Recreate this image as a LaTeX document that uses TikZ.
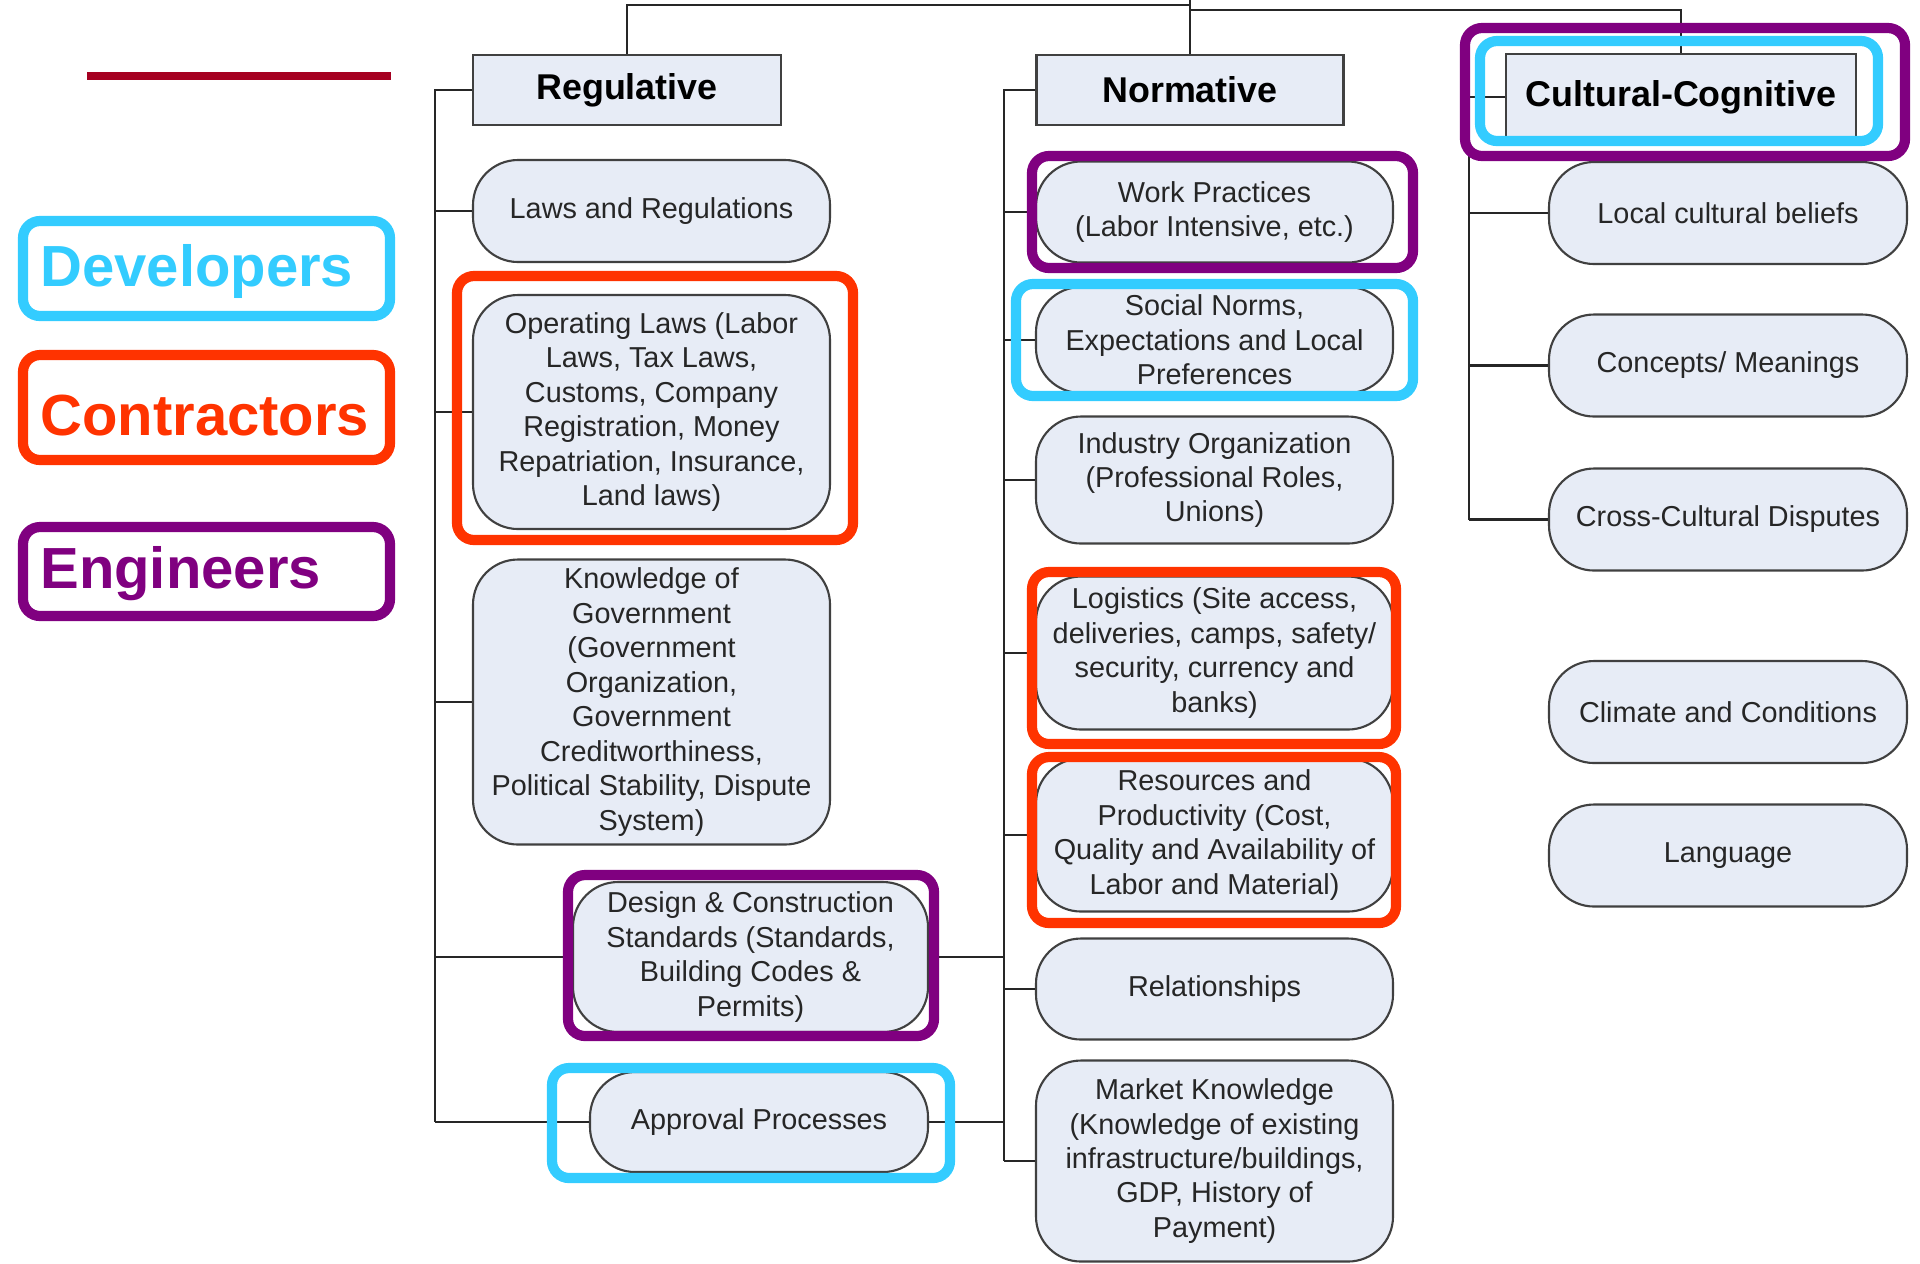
\documentclass[tikz,border=0pt]{standalone}
\usepackage{fontspec}
\setmainfont{Liberation Sans}
\usetikzlibrary{positioning}
\definecolor{boxfill}{HTML}{E7ECF6}
\definecolor{boxline}{HTML}{404040}
\definecolor{devcyan}{HTML}{33CCFF}
\definecolor{conred}{HTML}{FF3300}
\definecolor{engpurple}{HTML}{800080}
\definecolor{rulered}{HTML}{A50021}
\tikzset{
  % pillar headers
  pillar/.style={rectangle, draw=boxline, fill=boxfill, line width=0.6pt,
                 minimum height=0.7cm, font=\fontsize{10.2}{12}\selectfont\bfseries},
  % rounded pillar items
  item/.style={rectangle, draw=boxline, fill=boxfill, line width=0.6pt,
               rounded corners=0.45cm, minimum width=3.57cm, minimum height=1.02cm,
               inner sep=2pt, align=center, text=black!85,
               font=\fontsize{8.2}{9.8}\selectfont},
  % tree lines
  link/.style={draw=black!85, line width=0.6pt},
  % stakeholder outlines -- usage: \draw[hilite=conred] ...
  hilite/.style={draw=#1, line width=2.9pt, rounded corners=0.17cm},
  keytext/.style={anchor=west, font=\fontsize{16.5}{19}\selectfont\bfseries, text=#1},
}

\begin{document}
\begin{tikzpicture}
\useasboundingbox (0,0) rectangle (19.2,-12.63);

% ── Legend ───────────────────────────────────────────────────────────────────
\draw[rulered, line width=2.2pt] (0.87,-0.76) -- (3.91,-0.76);
\draw[hilite=devcyan]   (0.23,-2.21) rectangle (3.90,-3.16);
\draw[hilite=conred]    (0.23,-3.55) rectangle (3.90,-4.60);
\draw[hilite=engpurple] (0.23,-5.27) rectangle (3.90,-6.16);
\node[keytext=devcyan]   (devkey) at (0.28,-2.71) {Developers};
\node[keytext=conred]    (conkey) at (0.28,-4.16) {Contractors};
\node[keytext=engpurple] (engkey) at (0.28,-5.74) {Engineers};

% ── Pillars ──────────────────────────────────────────────────────────────────
\node[pillar, minimum width=3.08cm] (regulative) at (6.27,-0.90)  {Regulative};
\node[pillar, minimum width=3.07cm] (normative)  at (11.90,-0.90) {Normative};
\node[pillar, minimum width=3.50cm, minimum height=0.86cm]
                                    (cultural)   at (16.81,-0.97) {Cultural-Cognitive};

% ── Regulative items ─────────────────────────────────────────────────────────
\node[item] (laws)   at (6.515,-2.11) {Laws and Regulations};
\node[item, minimum height=2.34cm] (oplaws) at (6.515,-4.12)
  {Operating Laws (Labor\\Laws, Tax Laws,\\Customs, Company\\Registration, Money\\Repatriation, Insurance,\\Land laws)};
\node[item, minimum height=2.85cm] (govt) at (6.515,-7.02)
  {Knowledge of\\Government\\(Government\\Organization,\\Government\\Creditworthiness,\\Political Stability, Dispute\\System)};
\node[item, minimum width=3.55cm, minimum height=1.50cm] (design) at (7.505,-9.57)
  {Design \& Construction\\Standards (Standards,\\Building Codes \&\\Permits)};
\node[item, minimum width=3.38cm, minimum height=1.00cm] (approval) at (7.59,-11.22)
  {Approval Processes};

% ── Normative items ──────────────────────────────────────────────────────────
\node[item, minimum height=1.01cm] (work)   at (12.145,-2.12)
  {Work Practices\\(Labor Intensive, etc.)};
\node[item, minimum height=1.06cm] (social) at (12.145,-3.40)
  {Social Norms,\\Expectations and Local\\Preferences};
\node[item, minimum height=1.27cm] (industry) at (12.145,-4.80)
  {Industry Organization\\(Professional Roles,\\Unions)};
\node[item, minimum height=1.53cm] (logistics) at (12.145,-6.53)
  {Logistics (Site access,\\deliveries, camps, safety/\\security, currency and\\banks)};
\node[item, minimum height=1.53cm] (resources) at (12.145,-8.35)
  {Resources and\\Productivity (Cost,\\Quality and Availability of\\Labor and Material)};
\node[item, minimum height=1.01cm] (relations) at (12.145,-9.89) {Relationships};
\node[item, minimum height=2.01cm] (market) at (12.145,-11.61)
  {Market Knowledge\\(Knowledge of existing\\infrastructure/buildings,\\GDP, History of\\Payment)};

% ── Cultural-Cognitive items ─────────────────────────────────────────────────
\node[item, minimum width=3.58cm] (local)    at (17.28,-2.13)  {Local cultural beliefs};
\node[item, minimum width=3.58cm] (concepts) at (17.28,-3.655) {Concepts/ Meanings};
\node[item, minimum width=3.58cm] (disputes) at (17.28,-5.195) {Cross-Cultural Disputes};
\node[item, minimum width=3.58cm] (climate)  at (17.28,-7.12)  {Climate and Conditions};
\node[item, minimum width=3.58cm] (language) at (17.28,-8.555) {Language};

% ── Tree lines ───────────────────────────────────────────────────────────────
\coordinate (root)  at (11.90,0);
\coordinate (rjoin) at (11.90,-0.05);
\coordinate (cjoin) at (11.90,-0.10);
\draw[link] (root) -- (normative.north);
\draw[link] (regulative.north) |- (rjoin);
\draw[link] (cjoin) -| (cultural.north);

\coordinate (regspine)  at (4.35,0);
\coordinate (normspine) at (10.04,0);
\coordinate (cultspine) at (14.69,0);

\draw[link] (regulative.west) -- (regulative.west -| regspine) -- (approval.west -| regspine);
\foreach \n in {laws,oplaws,govt,design,approval}
  \draw[link] (\n.west -| regspine) -- (\n.west);

\draw[link] (normative.west) -- (normative.west -| normspine) -- (market.west -| normspine);
\foreach \n in {work,social,industry,logistics,resources,relations,market}
  \draw[link] (\n.west -| normspine) -- (\n.west);
\draw[link] (design.east)   -- (design.east -| normspine);
\draw[link] (approval.east) -- (approval.east -| normspine);

\draw[link] (cultural.west) -- (cultural.west -| cultspine) -- (disputes.west -| cultspine);
\foreach \n in {local,concepts,disputes}
  \draw[link] (\n.west -| cultspine) -- (\n.west);

% ── Stakeholder outlines ─────────────────────────────────────────────────────
\draw[hilite=engpurple] (14.65,-0.28) rectangle (19.05,-1.56);
\draw[hilite=devcyan]   (14.80,-0.41) rectangle (18.78,-1.41);
\draw[hilite=conred]    (4.57,-2.76)  rectangle (8.53,-5.40);
\draw[hilite=engpurple] (5.68,-8.75)  rectangle (9.34,-10.36);
\draw[hilite=devcyan]   (5.52,-10.68) rectangle (9.50,-11.78);
\draw[hilite=engpurple] (10.32,-1.56) rectangle (14.13,-2.68);
\draw[hilite=devcyan]   (10.16,-2.84) rectangle (14.13,-3.96);
\draw[hilite=conred]    (10.32,-5.72) rectangle (13.96,-7.44);
\draw[hilite=conred]    (10.32,-7.57) rectangle (13.96,-9.23);

\end{tikzpicture}
\end{document}
